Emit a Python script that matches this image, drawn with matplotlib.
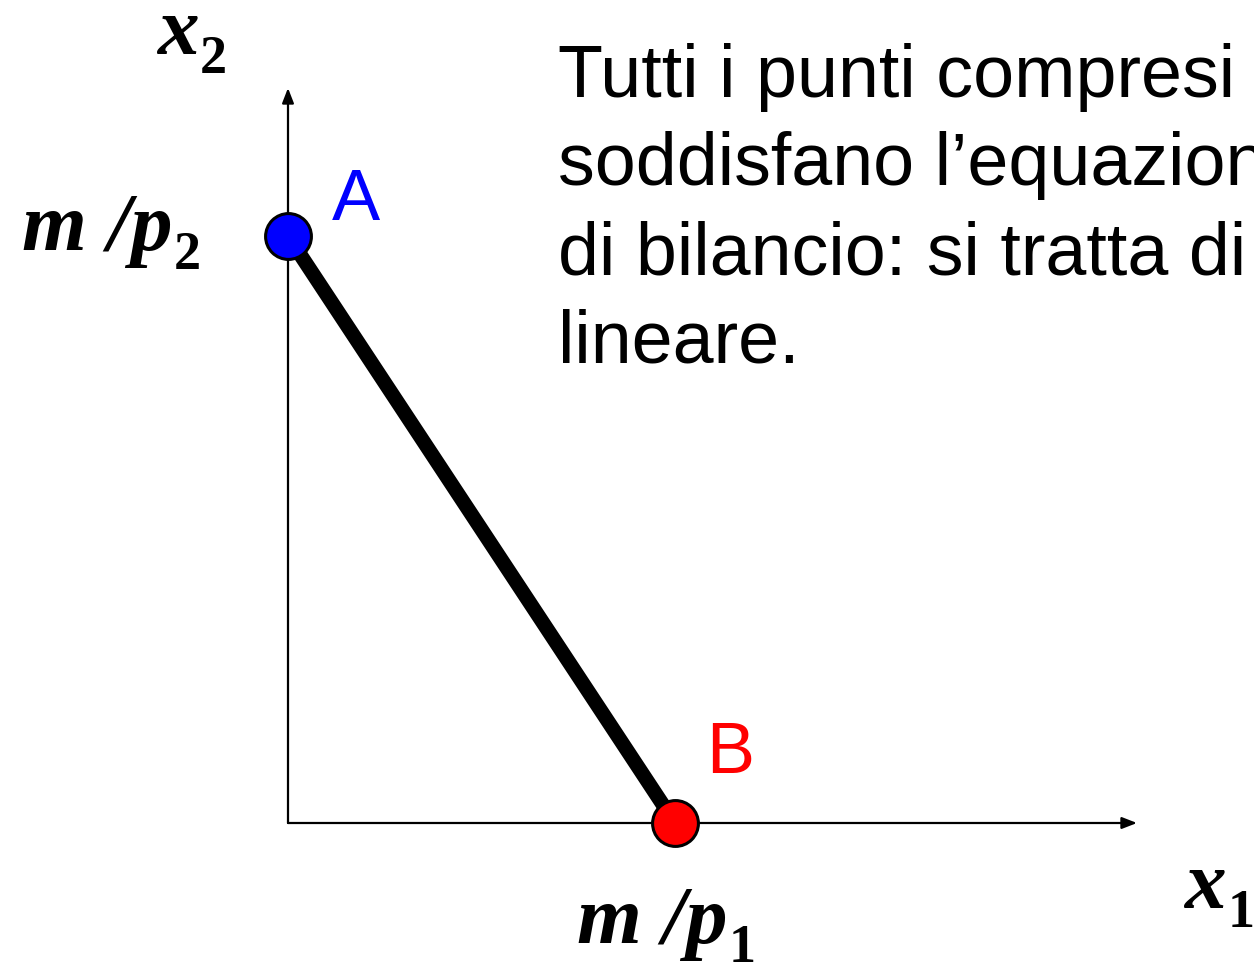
import matplotlib
matplotlib.use("Agg")
import matplotlib.pyplot as plt

# ---- data ----
point_labels = ['A', 'B']
point_x = [0.0, 1.0]      # A = (0, m/p2), B = (m/p1, 0)
point_y = [1.0, 0.0]
point_colors = ['#0000FF', '#FF0000']
x_axis_label = ('x', '1')
y_axis_label = ('x', '2')
x_intercept_label = ('m /p', '1')
y_intercept_label = ('m /p', '2')
text_lines = [
    'Tutti i punti compresi',
    'soddisfano l\u2019equazione',
    'di bilancio: si tratta di',
    'lineare.',
]

W, H = 1254, 966
fig = plt.figure(figsize=(W / 100, H / 100), dpi=100)
ax = fig.add_axes([0, 0, 1, 1])

# pixel geometry of the origin and unit lengths
ox, oy = 288, 823
ux, uy = 387, 587
ax.set_xlim(-ox / ux, (W - ox) / ux)
ax.set_ylim(-(H - oy) / uy, oy / uy)
ax.axis('off')


def px(xp, yp):
    return ((xp - ox) / ux, (oy - yp) / uy)


serif = 'Liberation Serif'
sans = 'Liberation Sans'


def math_label(xp, yp, parts, main_size=60, sub_size=39, sub_drop=14):
    main, sub = parts
    x0, y0 = px(xp, yp)
    t = ax.text(x0, y0, main, fontsize=main_size, family=serif,
                fontweight='bold', fontstyle='italic', ha='left',
                va='baseline')
    ax.annotate(sub, xy=(1, y0), xycoords=(t, 'data'),
                xytext=(1, -sub_drop), textcoords='offset points',
                fontsize=sub_size, family=serif, fontweight='bold',
                ha='left', va='baseline')


# axes arrows
arrow_kw = dict(arrowstyle='-|>,head_length=0.9,head_width=0.35', color='black',
                lw=1.6, shrinkA=0, shrinkB=0)
ax.annotate('', xy=px(1137, oy), xytext=(0, 0), arrowprops=arrow_kw)
ax.annotate('', xy=px(ox, 88), xytext=(0, 0), arrowprops=arrow_kw)

# budget line
ax.plot(point_x, point_y, color='black', lw=10.5, solid_capstyle='butt', zorder=3)

# points
for lab, xv, yv, c in zip(point_labels, point_x, point_y, point_colors):
    ax.plot([xv], [yv], 'o', ms=33, mfc=c, mec='black', mew=2.2, zorder=4)

# point labels
ax.text(*px(332, 220), point_labels[0], color=point_colors[0], fontsize=52,
        family=sans, ha='left', va='baseline')
ax.text(*px(706, 773), point_labels[1], color=point_colors[1], fontsize=52,
        family=sans, ha='left', va='baseline')

# axis labels
math_label(157, 54, y_axis_label)
math_label(1184, 908, x_axis_label)
math_label(22, 250, y_intercept_label)
math_label(577, 943, x_intercept_label)

# explanatory text
baselines = [97, 185, 274, 362]
for line, b in zip(text_lines, baselines):
    ax.text(*px(558, b), line, fontsize=53, family=sans, ha='left',
            va='baseline', color='black')

fig.savefig('out.png', dpi=100)
